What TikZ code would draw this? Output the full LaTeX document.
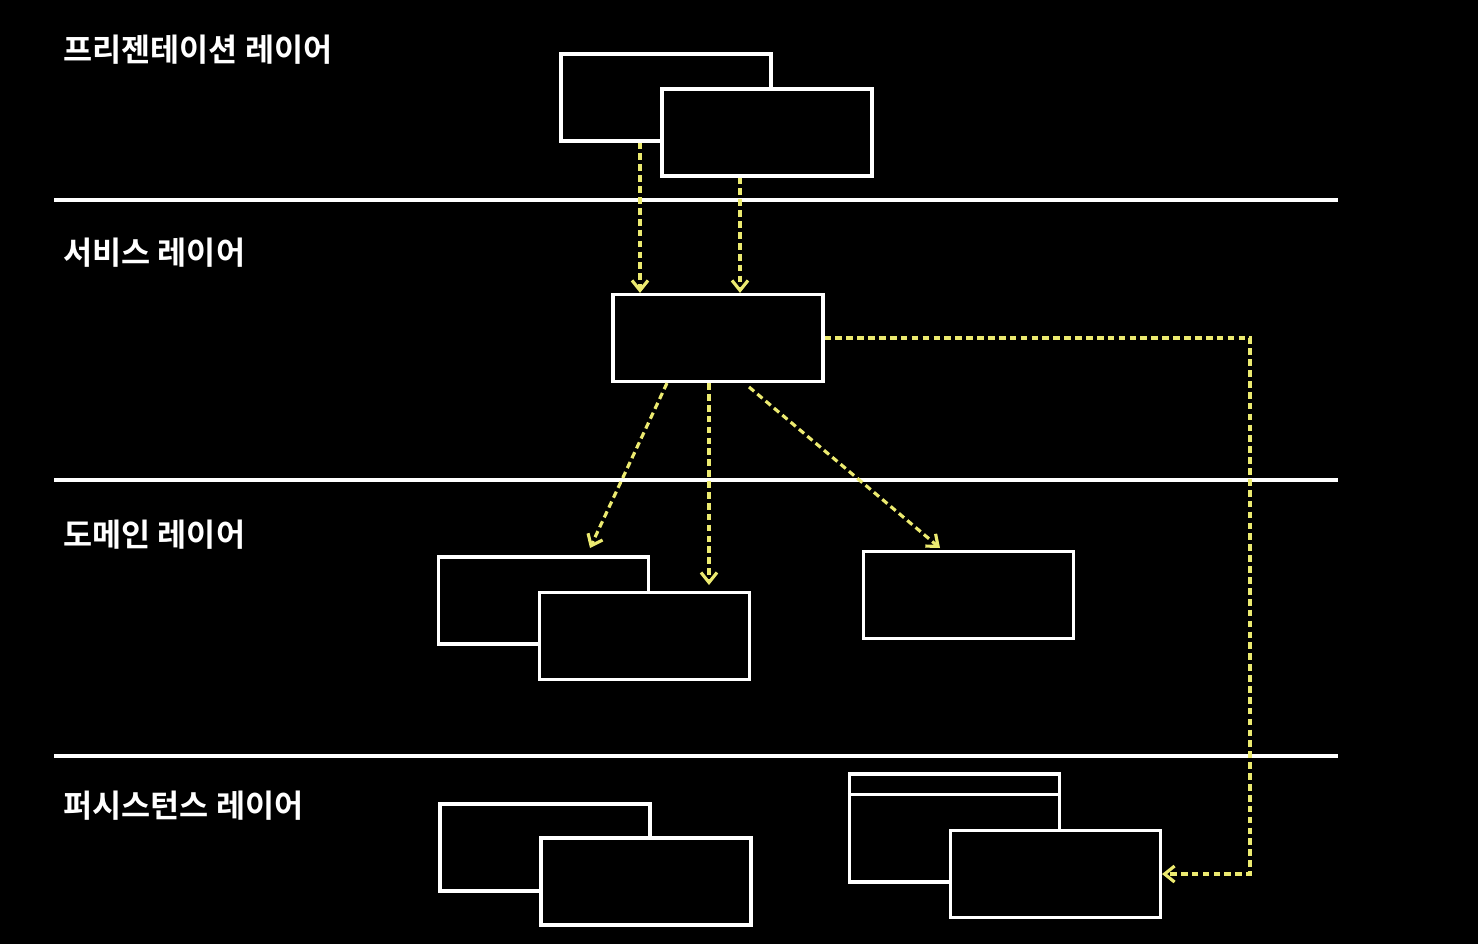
\documentclass[tikz,border=0pt]{standalone}
\usepackage{fontspec}
\newfontfamily\krfont{Noto Sans CJK KR}[BoldFont=* Bold]
\usetikzlibrary{arrows.meta}
\definecolor{dashyellow}{RGB}{236,234,112}

\begin{document}
\begin{tikzpicture}[
  x=0.02cm,y=-0.02cm,>={Straight Barb[length=0.2cm,width=0.32cm]},
  box/.style={draw=white,fill=black,line width=1.8pt,minimum width=4.2cm,minimum height=1.74cm,inner sep=0pt},
  layer/.style={draw=white,line width=2pt},
  title/.style={anchor=west,inner sep=0pt,text=white,font=\krfont\bfseries\fontsize{18}{20}\selectfont},
  flow/.style={->,draw=dashyellow,line width=1.8pt,dash pattern=on 3.8pt off 2.4pt}
]
\useasboundingbox[fill=black] (0,0) rectangle (1478,944);
% layer separators
\draw[layer] (54,200) -- (1338,200);
\draw[layer] (54,480) -- (1338,480);
\draw[layer] (54,756) -- (1338,756);
\node[title] (tpres) at (63,50) {프리젠테이션 레이어};
\node[title] (tsvc) at (63,253) {서비스 레이어};
\node[title] (tdom) at (63,535) {도메인 레이어};
\node[title] (tper) at (63,806) {퍼시스턴스 레이어};
% presentation
\node[box] (presA) at (666,97.5) {};
\node[box] (presB) at (767,132.5) {};
% service
\node[box] (svc) at (718,338) {};
% domain
\node[box] (domA) at (543.5,600.5) {};
\node[box] (domB) at (644.5,636) {};
\node[box] (domC) at (968.5,595) {};
% persistence
\node[box] (perA) at (545,847.5) {};
\node[box] (perB) at (646,881.5) {};
\node[box,minimum height=2.16cm] (perC) at (954.5,828) {};
\draw[white,line width=1.8pt] (perC.north west) ++(0,22) coordinate (hdr) -- (hdr -| perC.east);
\node[box] (perD) at (1055.5,874) {};
% arrow ends
\coordinate (xa) at (640,0);
\coordinate (xb) at (740,0);
\coordinate (xc) at (667,0);
\coordinate (xd) at (709,0);
\coordinate (xe) at (749,387);
\coordinate (endA) at (590,548);
\coordinate (endB) at (709,585);
\coordinate (endC) at (940,548);
\coordinate (turn) at (1250,0);
\draw[flow] (xa |- presA.south) -- (xa |- svc.north);
\draw[flow] (xb |- presB.south) -- (xb |- svc.north);
\draw[flow] (xc |- svc.south) -- (endA);
\draw[flow] (xd |- svc.south) -- (endB);
\draw[flow] (xe) -- (endC);
\draw[flow] (svc.east) -- (turn |- svc.east) -- (turn |- perD.east) -- (perD.east);
\end{tikzpicture}
\end{document}
